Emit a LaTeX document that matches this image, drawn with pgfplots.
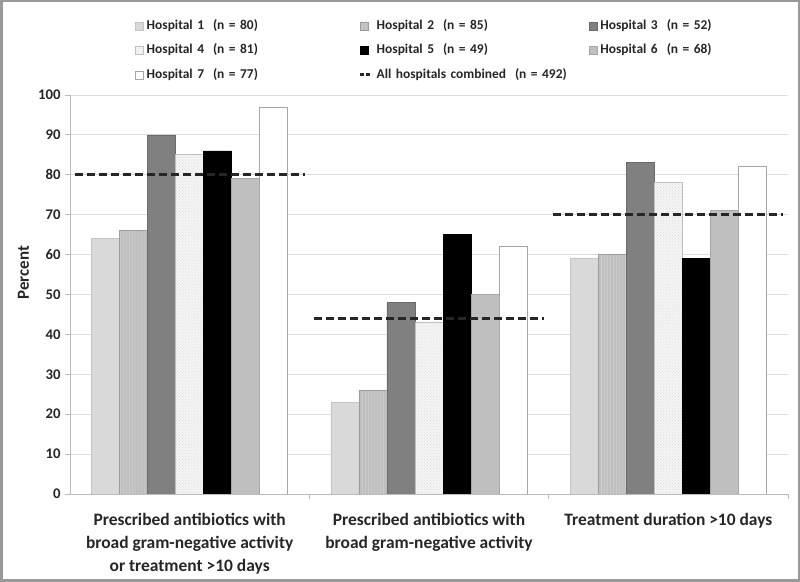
\documentclass[border=0pt]{standalone}
\usepackage{pgfplots}
\pgfplotsset{compat=1.18}
\usepackage{pgfplotstable}
\usepackage{fontspec}
\setmainfont{Carlito}
\usetikzlibrary{patterns}
\definecolor{hAf}{HTML}{D9D9D9}\definecolor{hAd}{HTML}{C4C4C4}
\definecolor{hBf}{HTML}{BFBFBF}\definecolor{hBd}{HTML}{9C9C9C}
\definecolor{hCf}{HTML}{808080}\definecolor{hCd}{HTML}{6A6A6A}
\definecolor{hDf}{HTML}{F5F5F5}\definecolor{hDd}{HTML}{BFBFBF}
\definecolor{hFf}{HTML}{BFBFBF}\definecolor{hFd}{HTML}{A6A6A6}
\definecolor{hGd}{HTML}{A6A6A6}
\definecolor{gridc}{HTML}{DDDDDD}
\definecolor{axc}{HTML}{BBBBBB}

\pgfplotstableread{
x h1 h2 h3 h4 h5 h6 h7 all
0 64 66 90 85 86 79 97 80
1 23 26 48 43 65 50 62 44
2 59 60 83 78 59 71 82 70
}\datatable

\pgfplotsset{
  barleg/.style={legend image code/.code={\draw[##1,line width=0.7bp] (0bp,-4bp) rectangle (8bp,4bp);}},
  dashleg/.style={legend image code/.code={\draw[##1, dash pattern=on 4bp off 2bp] (0bp,0bp) -- (12bp,0bp);}},
  hbar/.style={ybar, bar width=0.117, bar shift=#1, line width=0.7bp, barleg},
}

\begin{document}
\begin{tikzpicture}
\useasboundingbox (0,0) rectangle (800bp,582bp);
\begin{axis}[
  at={(70bp,88bp)}, anchor=south west,
  scale only axis, width=718bp, height=399bp,
  xmin=-0.5, xmax=2.5, ymin=0, ymax=100,
  ytick={0,10,...,100},
  xtick={0,1,2},
  xticklabels={{Prescribed antibiotics with\\broad gram-negative activity\\or treatment >10 days},
               {Prescribed antibiotics with\\broad gram-negative activity},
               {Treatment duration >10 days}},
  axis x line*=bottom, axis y line*=left,
  axis line style={draw=axc, line width=0.8bp},
  ymajorgrids, grid style={draw=gridc, line width=0.8bp},
  major tick length=5bp, tick align=outside,
  major x tick style={draw=none},
  major y tick style={draw=axc, line width=0.8bp},
  extra x ticks={0.5,1.5,2.5}, extra x tick labels={},
  extra x tick style={major x tick style={draw=axc, line width=0.8bp}},
  /pgf/number format/assume math mode=true,
  yticklabel style={font=\bfseries\fontsize{14.8}{16}\selectfont, color=black!85, xshift=-1bp},
  xticklabel style={font=\bfseries\fontsize{17.5}{23}\selectfont, align=center, color=black!85, yshift=-11bp},
  ylabel={Percent},
  ylabel style={font=\bfseries\fontsize{17}{19}\selectfont, color=black!85, at={(axis description cs:-0.065,0.555)}, anchor=center},
  legend columns=3,
  legend style={at={(axis description cs:0.0905,1.204)}, anchor=north west, draw=none, fill=none,
    inner sep=0pt, outer sep=0pt, column sep=0bp,
    font=\bfseries\fontsize{13.5}{16}\selectfont,
    nodes={text width=209bp, text height=10bp, text depth=3.5bp, inner ysep=5.5bp, inner xsep=3bp, align=left, text=black!85}},
]
\addplot[hbar=-0.351, fill=hAf, draw=hAd] table[x=x,y=h1]{\datatable};
\addlegendentry{Hospital 1\ \ (n = 80)}
\addplot[hbar=-0.234, fill=hBf, draw=hBd, postaction={pattern=vertical lines, pattern color=white!30!hBf}] table[x=x,y=h2]{\datatable};
\addlegendentry{Hospital 2\ \ (n = 85)}
\addplot[hbar=-0.117, fill=hCf, draw=hCd] table[x=x,y=h3]{\datatable};
\addlegendentry{Hospital 3\ \ (n = 52)}
\addplot[hbar=0, fill=hDf, draw=hDd, postaction={pattern=crosshatch dots, pattern color=black!15}] table[x=x,y=h4]{\datatable};
\addlegendentry{Hospital 4\ \ (n = 81)}
\addplot[hbar=0.117, fill=black, draw=black] table[x=x,y=h5]{\datatable};
\addlegendentry{Hospital 5\ \ (n = 49)}
\addplot[hbar=0.234, fill=hFf, draw=hFd] table[x=x,y=h6]{\datatable};
\addlegendentry{Hospital 6\ \ (n = 68)}
\addplot[hbar=0.351, fill=white, draw=hGd] table[x=x,y=h7]{\datatable};
\addlegendentry{Hospital 7\ \ (n = 77)}
\addplot[black!85, line width=3bp, dash pattern=on 8bp off 4bp, unbounded coords=jump, dashleg]
  coordinates {(-0.48,80) (0.48,80) (0.5,nan) (0.52,44) (1.48,44) (1.5,nan) (1.52,70) (2.48,70)};
\addlegendentry{All hospitals combined\ \ (n = 492)}
\end{axis}
\draw[black!40, line width=2bp] (1.5bp,1.5bp) rectangle (798.5bp,580.5bp);
\end{tikzpicture}
\end{document}
